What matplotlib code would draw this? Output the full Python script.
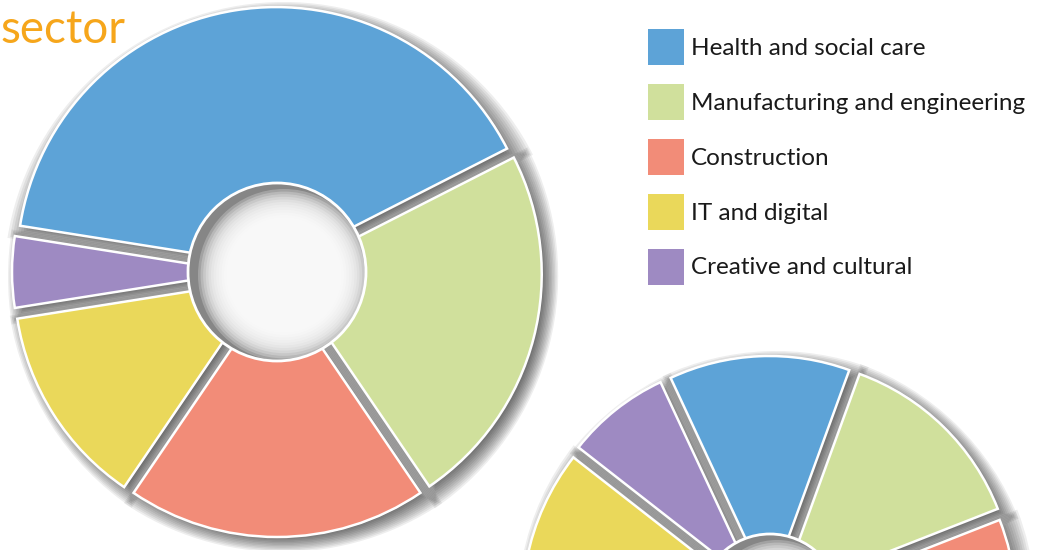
import matplotlib
matplotlib.use("Agg")
import matplotlib.pyplot as plt
from matplotlib.patches import Wedge, Circle, Patch
import numpy as np

# categories and colours
sectors = ["Health and social care", "Manufacturing and engineering",
           "Construction", "IT and digital", "Creative and cultural"]
colors = ["#5DA3D7", "#D0E09C", "#F28C78", "#EAD85A", "#9E8AC2"]

# share of each sector (%), left donut and the partly visible right donut
shares_left = [40, 23, 19, 13, 5]
shares_right = [12.5, 13.5, 36.5, 30, 7.5]

title = "sector"

plt.rcParams['font.family'] = ['Lato', 'DejaVu Sans']

W, H = 1043, 550
fig = plt.figure(figsize=(W / 100, H / 100), dpi=100)
ax = fig.add_axes([0, 0, 1, 1])

GAP = 11                 # px between slices
SH_DX, SH_DY = 6, -5     # shadow offset (right and down)
blur = np.linspace(-6, 10, 12)   # grow amounts for the soft shadow layers


def donut(values, cx, cy, r_tip, r_hole, start):
    wedges, _ = ax.pie(values, colors=colors, radius=r_tip, center=(cx, cy),
                       startangle=start, counterclock=False,
                       wedgeprops=dict(edgecolor='white', linewidth=1.8))
    for w in wedges:
        half = np.radians((w.theta2 - w.theta1) / 2)
        mid = np.radians((w.theta1 + w.theta2) / 2)
        shift = GAP / 2 / np.sin(half)
        w.set_center((cx + shift * np.cos(mid), cy + shift * np.sin(mid)))
        w.set_radius(r_tip - shift)
        w.set_zorder(3)
        # soft drop shadow: stacked translucent copies grown by e px
        for e in blur:
            s = (GAP / 2 - e) / np.sin(half)
            sh = Wedge((cx + s * np.cos(mid) + SH_DX, cy + s * np.sin(mid) + SH_DY),
                       r_tip + e - s, w.theta1, w.theta2,
                       facecolor='k', edgecolor='none', alpha=0.065, zorder=2)
            ax.add_patch(sh)
    # hole with inner shadow
    base = Circle((cx, cy), r_hole, facecolor='#868686', edgecolor='none', zorder=4)
    ax.add_patch(base)
    for j in range(12):
        lit = Circle((cx + 7, cy - 3), r_hole - 3 - j * 2.6, facecolor='white',
                     edgecolor='none', alpha=0.24, zorder=4)
        ax.add_patch(lit)
        lit.set_clip_path(base)
    ax.add_patch(Circle((cx, cy), r_hole, facecolor='none', edgecolor='white',
                        linewidth=2, zorder=5))
    return wedges


donut(shares_left, 277, H - 272, 265, 89, 171)
donut(shares_right, 770, H - 604, 248, 70, 115)

ax.text(1, H - 43, title, fontsize=33, color='#F6A61B', va='baseline', ha='left')

handles = [Patch(facecolor=c, edgecolor='none', label=s) for c, s in zip(colors, sectors)]
ax.legend(handles=handles, loc='upper left', bbox_to_anchor=(648, H - 29),
          bbox_transform=ax.transData, frameon=False, fontsize=17.5,
          borderpad=0, borderaxespad=0, handlelength=1.48, handleheight=1.9,
          handletextpad=0.29, labelspacing=0.78, labelcolor='#1a1a1a')

ax.set_xlim(0, W)
ax.set_ylim(0, H)
ax.set_aspect('equal')
ax.axis('off')

fig.savefig("out.png", dpi=100, facecolor='white')
